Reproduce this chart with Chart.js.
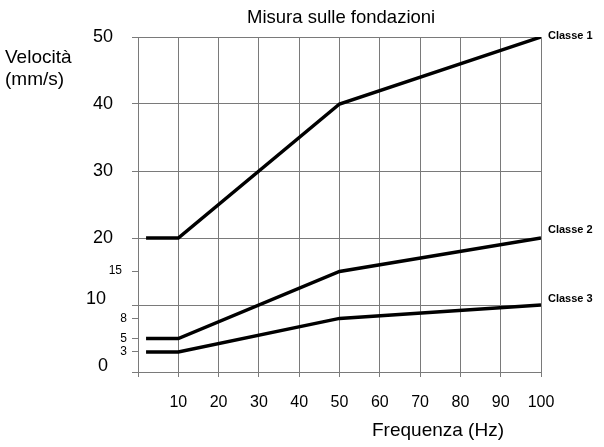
<!DOCTYPE html>
<html><head><meta charset="utf-8">
<script src="https://cdn.jsdelivr.net/npm/chart.js@4.4.1/dist/chart.umd.min.js"></script>
<style>html,body{margin:0;padding:0;background:#fff;}#wrap{width:604px;height:447px;position:relative;}</style>
</head><body><div id="wrap"><canvas id="c" width="604" height="447"></canvas></div>
<script>
const frequencies = [2, 10, 50, 100];
const classe1 = [20, 20, 40, 50];
const classe2 = [5, 5, 15, 20];
const classe3 = [3, 3, 8, 10];
const seriesNames = ['Classe 1', 'Classe 2', 'Classe 3'];
const yTickValues = [0, 3, 5, 8, 10, 15, 20, 30, 40, 50];
const yMajorTicks = [0, 10, 20, 30, 40, 50];
const xTickValues = [0, 10, 20, 30, 40, 50, 60, 70, 80, 90, 100];
const titleText = 'Misura sulle fondazioni';
const yTitle = ['Velocità', '(mm/s)'];
const xTitle = 'Frequenza (Hz)';

const FONT = '"Liberation Sans", Arial, sans-serif';
const GRID = '#7a7a7a';

const mk = (arr) => frequencies.map((f, i) => ({x: f, y: arr[i]}));
const seriesData = [classe1, classe2, classe3];

// style per y tick label (size, right-edge offset from axis, vertical shift)
const yLabelStyle = {
  0: {size: 18, dx: 30, dy: -6},
  10: {size: 18, dx: 32, dy: -6},
  20: {size: 18, dx: 25, dy: 0},
  30: {size: 18, dx: 25, dy: 0},
  40: {size: 18, dx: 25, dy: 0},
  50: {size: 18, dx: 25, dy: 0},
  15: {size: 12, dx: 16, dy: -1},
  8: {size: 12, dx: 11, dy: 0},
  5: {size: 12, dx: 11, dy: 0},
  3: {size: 12, dx: 11, dy: 0}
};

const textPlugin = {
  id: 'texts',
  afterDraw(chart) {
    const ctx = chart.ctx;
    const xs = chart.scales.x, ys = chart.scales.y;
    const area = chart.chartArea;
    ctx.save();
    ctx.fillStyle = '#000';
    // y tick labels
    ctx.textAlign = 'right';
    ctx.textBaseline = 'middle';
    yTickValues.forEach(v => {
      const st = yLabelStyle[v];
      ctx.font = st.size + 'px ' + FONT;
      ctx.fillText(String(v), area.left - st.dx, ys.getPixelForValue(v) + st.dy);
    });
    // title
    ctx.textAlign = 'left';
    ctx.font = '18.5px ' + FONT;
    ctx.fillText(titleText, 247, 18);
    // y title
    ctx.font = '19px ' + FONT;
    ctx.fillText(yTitle[0], 5, 58);
    ctx.fillText(yTitle[1], 5, 80);
    // x title
    ctx.fillText(xTitle, 372, 431);
    // series labels
    ctx.font = 'bold 11px ' + FONT;
    const offs = [-1, -8, -6];
    seriesData.forEach((arr, i) => {
      const last = arr.length - 1;
      ctx.fillText(seriesNames[i], xs.getPixelForValue(frequencies[last]) + 7, ys.getPixelForValue(arr[last]) + offs[i]);
    });
    ctx.restore();
  }
};

new Chart(document.getElementById('c'), {
  type: 'line',
  data: {
    datasets: seriesData.map((arr, i) => ({
      label: seriesNames[i],
      data: mk(arr),
      borderColor: '#000',
      borderWidth: 3.5,
      pointRadius: 0,
      tension: 0,
      fill: false
    }))
  },
  options: {
    responsive: false,
    animation: false,
    layout: {padding: {top: 37, right: 63, left: 0, bottom: 0}},
    plugins: {legend: {display: false}, tooltip: {enabled: false}, title: {display: false}},
    scales: {
      x: {
        type: 'linear', min: 0, max: 100,
        afterBuildTicks: s => { s.ticks = xTickValues.map(v => ({value: v})); },
        afterFit: s => { s.height = 75; },
        grid: {color: GRID, lineWidth: 1, tickLength: 5, tickColor: GRID},
        border: {color: GRID, width: 1},
        ticks: {
          padding: 16,
          color: '#000',
          font: {family: FONT, size: 16},
          maxRotation: 0,
          autoSkip: false,
          callback: v => v === 0 ? '' : String(v)
        }
      },
      y: {
        type: 'linear', min: 0, max: 50,
        afterBuildTicks: s => { s.ticks = yTickValues.map(v => ({value: v})); },
        afterFit: s => { s.width = 138; },
        grid: {
          color: c => (c.tick && yMajorTicks.includes(c.tick.value)) ? GRID : 'rgba(0,0,0,0)',
          tickColor: GRID,
          lineWidth: 1,
          tickLength: 6
        },
        border: {color: GRID, width: 1},
        ticks: {display: false}
      }
    }
  },
  plugins: [textPlugin]
});
</script></body></html>
